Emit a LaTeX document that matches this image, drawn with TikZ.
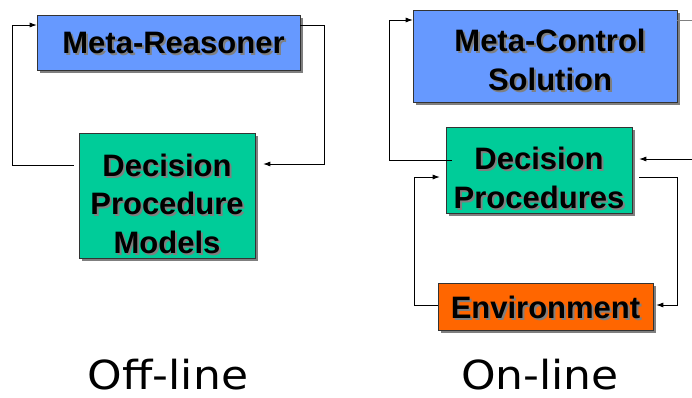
\documentclass[tikz,border=0pt]{standalone}
\usepackage{fontspec}
\setmainfont{Liberation Sans}
\newfontfamily\handfont[FakeStretch=1.1]{DejaVu Sans}
\usetikzlibrary{calc,arrows.meta,shadows}
\definecolor{metablue}{HTML}{6699FF}
\definecolor{procgreen}{HTML}{00CC99}
\definecolor{envorange}{HTML}{FF6600}
\definecolor{shadegray}{HTML}{7F7F7F}
% text with a grey shadow, optionally lowered
\newcommand{\shd}[2][0pt]{\raisebox{-#1}[\height][\depth]{\rlap{\raisebox{-2pt}{\hspace{2pt}\textcolor{shadegray}{#2}}}#2}}

\begin{document}
\begin{tikzpicture}[x=1pt,y=-1pt,
  box/.style={draw=black!80, line width=0.6pt, inner sep=0pt, align=center,
    font=\fontsize{31}{38.5}\selectfont\bfseries,
    drop shadow={shadow xshift=3pt, shadow yshift=-3pt, fill=shadegray, opacity=1}},
  arr/.style={-{Latex[length=7pt,width=5pt]}, line width=0.7pt}]
\useasboundingbox (0,0) rectangle (692,397);
% off-line
\node[box, fill=metablue, minimum width=263, minimum height=55] (mr) at (168.5,42.5) {\hspace{10pt}\shd[1pt]{Meta-Reasoner}};
\node[box, fill=procgreen, minimum width=176, minimum height=125] (dpm) at (167,195.5) {\shd[9pt]{Decision}\\ \shd[9pt]{Procedure}\\ \shd[9pt]{Models}};
\draw[arr] ($(dpm.west |- 0,165)+(-5,0)$) -| (12,25) -- (mr.west |- 0,25);
\draw[arr] (mr.east |- 0,25) -| (324,164) -- ($(dpm.east |- 0,164)+(8,0)$);
% on-line
\node[box, fill=metablue, minimum width=264, minimum height=92] (mcs) at (545,56) {\hspace{10pt}\shd[5pt]{Meta-Control}\\ \hspace{10pt}\shd[5pt]{Solution}};
\node[box, fill=procgreen, minimum width=186, minimum height=86] (dp) at (539,170) {\shd[9pt]{Decision}\\ \shd[9pt]{Procedures}};
\node[box, fill=envorange, minimum width=215, minimum height=47] (env) at (545.5,306.5) {\shd[2pt]{Environment}};
\coordinate (inR) at (692,159);
\coordinate (outR) at (692,20);
\draw[arr] ($(dp.west |- 0,160)+(6,0)$) -| (389,20) -- (mcs.west |- 0,20);
\draw[line width=0.7pt, draw=gray] (mcs.east |- outR) -- (outR);
\draw[arr] (inR) -- ($(dp.east |- inR)+(7,0)$);
\draw[arr] ($(dp.east |- 0,177)+(7,0)$) -| (677,305) -- ($(env.east |- 0,305)+(3,0)$);
\draw[arr] (env.west |- 0,305) -| (414,177) -- ($(dp.west |- 0,177)+(-6,0)$);
% labels
\node[anchor=base, inner sep=0pt, font=\handfont\fontsize{40}{44}\selectfont] (offl) at (168,389) {Off-line};
\node[anchor=base, inner sep=0pt, font=\handfont\fontsize{40}{44}\selectfont] (onl) at (540,389) {On-line};
\end{tikzpicture}
\end{document}
